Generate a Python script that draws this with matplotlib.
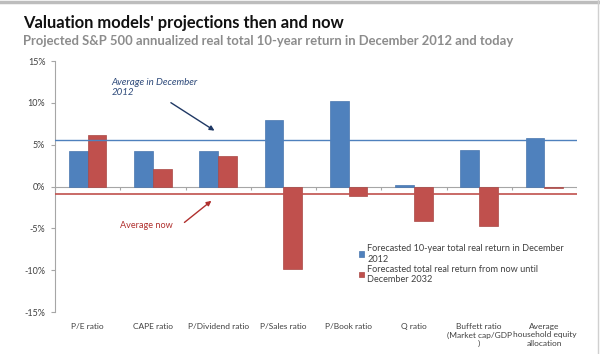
import matplotlib
matplotlib.use("Agg")
import matplotlib.pyplot as plt
from matplotlib.lines import Line2D
import numpy as np

plt.rcParams['font.family'] = ['Lato', 'DejaVu Sans']

categories = ["P/E ratio", "CAPE ratio", "P/Dividend ratio", "P/Sales ratio",
              "P/Book ratio", "Q ratio", "Buffett ratio\n(Market cap/GDP\n)",
              "Average\nhousehold equity\nallocation"]
dec2012 = [4.2, 4.2, 4.2, 7.9, 10.2, 0.2, 4.4, 5.8]
now2032 = [6.2, 2.1, 3.7, -9.9, -1.15, -4.1, -4.7, -0.2]
avg_dec2012 = 5.6
avg_now = -0.95
yticks = [-15, -10, -5, 0, 5, 10, 15]
ytick_labels = ["-15%", "-10%", "-5%", "0%", "5%", "10%", "15%"]

blue = "#4F81BD"
red = "#C0504D"

fig = plt.figure(figsize=(6.0, 3.54), dpi=100)
ax = fig.add_axes([0.0917, 0.1186, 0.87, 0.709])

x = np.arange(len(categories))
w = 0.287
ax.bar(x - w / 2, dec2012, width=w, color=blue, edgecolor="#4A76AE", linewidth=0.5,
       label="Forecasted 10-year total real return in December\n2012", zorder=2)
ax.bar(x + w / 2, now2032, width=w, color=red, edgecolor="#A94744", linewidth=0.5,
       label="Forecasted total real return from now until\nDecember 2032", zorder=2)

ax.axhline(avg_dec2012, color=blue, lw=1.0, zorder=3)
ax.axhline(avg_now, color=red, lw=1.2, zorder=3)

# horizontal axis at zero with tick marks at category boundaries
ax.axhline(0, color="#A6A6A6", lw=0.8, zorder=1)
bounds = np.arange(len(categories) + 1) - 0.5
ax.vlines(bounds, -0.4, 0, color="#A6A6A6", lw=0.8, zorder=1)

ax.set_xlim(-0.5, len(categories) - 0.5)
ax.set_ylim(-15, 15)
ax.set_yticks(yticks)
ax.set_yticklabels(ytick_labels, fontsize=6.5, color="#404040")
ax.set_xticks(x)
ax.set_xticklabels(categories, fontsize=6.0, color="#404040", linespacing=1.2, va="top")
ax.tick_params(axis="x", length=0, pad=8)
ax.tick_params(axis="y", length=3, color="#A6A6A6", width=0.8, pad=4)
for s in ["top", "right", "bottom"]:
    ax.spines[s].set_visible(False)
ax.spines["left"].set_color("#A6A6A6")
ax.spines["left"].set_linewidth(0.8)

# annotations
ax.text(0.37, 13.0, "Average in December\n2012", fontsize=7.0, style="italic",
        color="#2E4A7A", va="top", ha="left", linespacing=1.2)
ax.annotate("", xy=(1.98, 6.5), xytext=(1.24, 10.2),
            arrowprops=dict(arrowstyle="-|>", color="#1F3864", lw=1.0, mutation_scale=7))
ax.text(0.49, -4.65, "Average now", fontsize=6.6, color="#B0302E", va="center", ha="left")
ax.annotate("", xy=(1.93, -1.5), xytext=(1.45, -4.5),
            arrowprops=dict(arrowstyle="-|>", color="#B0302E", lw=1.0, mutation_scale=7))

leg = ax.legend(loc="upper left", bbox_to_anchor=(0.598, 0.31),
                bbox_transform=fig.transFigure, frameon=False, fontsize=6.6,
                handlelength=0.6, handleheight=0.6, handletextpad=0.3,
                labelspacing=0.1, borderaxespad=0, borderpad=0)
for t in leg.get_texts():
    t.set_color("#404040")

fig.text(0.038, 0.935, "Valuation models' projections then and now", fontsize=11.9,
         fontweight="bold", color="#111111", ha="left", va="center")
fig.text(0.038, 0.885, "Projected S&P 500 annualized real total 10-year return in December 2012 and today",
         fontsize=9.4, fontweight="bold", color="#8C8C8C", ha="left", va="center")

# frame edges of the screenshot
fig.add_artist(Line2D([0, 1], [0.995, 0.995], transform=fig.transFigure, color="#BDBDBD", lw=2.5))
fig.add_artist(Line2D([0.997, 0.997], [0, 1], transform=fig.transFigure, color="#D0D0D0", lw=1))

fig.savefig("out.png", dpi=100)
